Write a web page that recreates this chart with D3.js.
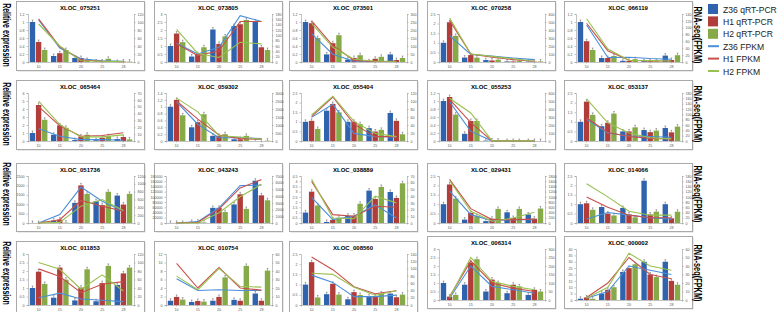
<!DOCTYPE html>
<html>
<head>
<meta charset="utf-8">
<script src="https://cdn.jsdelivr.net/npm/d3@7"></script>
<style>
  body { margin: 0; background: #fff; }
  svg { display: block; font-family: "Liberation Sans", Arial, sans-serif; }
</style>
</head>
<body>
<div id="chart"></div>
<script>
const categories = ["10", "15", "20", "25", "28"];
const seriesNames = ["Z36 qRT-PCR", "H1 qRT-PCR", "H2 qRT-PCR", "Z36 FPKM", "H1 FPKM", "H2 FPKM"];

const titles = [
  "XLOC_075251", "XLOC_073805", "XLOC_073501", "XLOC_070258", "XLOC_066119",
  "XLOC_065464", "XLOC_059302", "XLOC_055404", "XLOC_055253", "XLOC_053137",
  "XLOC_051736", "XLOC_043243", "XLOC_038889", "XLOC_029431", "XLOC_014066",
  "XLOC_011853", "XLOC_010754", "XLOC_008560", "XLOC_006314", "XLOC_000002"
];

// left (qRT-PCR) and right (FPKM) axis ranges
const leftMax   = [1.2, 3, 1.2, 2.5, 1.2,  6, 1.4, 2.5, 1.2, 2.5,  2500, 180000, 4.5, 2.5, 2.5,  3, 12, 2.5, 3, 40];
const leftStep  = [0.2, 0.5, 0.2, 0.5, 0.2,  1, 0.2, 0.5, 0.2, 0.5,  500, 20000, 0.5, 0.5, 0.5,  0.5, 2, 0.5, 0.5, 5];
const rightMax  = [120, 180, 300, 600, 140,  70, 3000, 120, 600, 180,  1200, 7000, 70, 1800, 180,  120, 60, 140, 300, 60];
const rightStep = [20, 20, 50, 100, 20,  10, 500, 20, 100, 20,  200, 1000, 10, 200, 20,  20, 10, 20, 50, 10];

const qpcrZ36 = [
  [1.0, 0.15, 0.1, 0.01, 0.0], [1.0, 0.34, 2.03, 2.25, 2.53], [1.0, 0.19, 0.06, 0.02, 0.19], [1.0, 0.23, 0.1, 0.03, 0.02], [1.0, 0.1, 0.03, 0.02, 0.16],
  [1.0, 0.78, 0.12, 0.1, 0.25], [1.0, 0.4, 0.15, 0.05, 0.0], [1.0, 1.58, 1.0, 0.67, 1.46], [1.0, 0.18, 0.01, 0.0, 0.0], [1.0, 0.77, 0.5, 0.57, 0.68],
  [2, 125, 1070, 1160, 1460], [300, 4000, 58000, 71000, 162000], [1.0, 0.1, 0.7, 3.1, 2.97], [1.0, 0.18, 0.1, 0.57, 0.45], [1.0, 0.85, 0.8, 2.25, 1.0],
  [1.0, 0.43, 0.27, 0.22, 1.18], [1.0, 0.7, 1.0, 1.2, 2.7], [1.0, 0.53, 0.28, 0.44, 0.56], [1.0, 0.9, 0.5, 0.4, 0.3], [1, 5, 22, 30, 30]
];
const qpcrH1 = [
  [0.5, 0.22, 0.1, 0.01, 0.01], [1.78, 0.49, 1.13, 2.36, 0.92], [0.97, 0.47, 0.1, 0.08, 0.05], [2.07, 0.36, 0.08, 0.03, 0.02], [0.52, 0.1, 0.03, 0.02, 0.05],
  [4.5, 1.96, 0.57, 0.4, 0.5], [1.2, 0.55, 0.15, 0.05, 0.0], [1.05, 1.93, 1.0, 0.49, 1.05], [1.1, 0.5, 0.01, 0.0, 0.0], [2.05, 0.95, 0.5, 0.46, 0.45],
  [3, 180, 2000, 950, 980], [400, 5000, 58000, 110000, 106000], [3.0, 0.3, 0.7, 2.3, 2.4], [2.05, 0.54, 0.23, 0.27, 0.23], [1.05, 0.5, 0.45, 0.45, 0.25],
  [1.96, 2.2, 1.02, 1.29, 1.86], [1.9, 0.95, 1.9, 1.0, 1.0], [2.1, 1.04, 0.63, 0.42, 0.38], [0.2, 2.2, 1.2, 0.9, 0.6], [2, 8, 25, 20, 15]
];
const qpcrH2 = [
  [0.3, 0.3, 0.05, 0.08, 0.01], [1.24, 0.92, 1.6, 2.63, 0.75], [0.6, 0.67, 0.17, 0.13, 0.1], [1.36, 0.23, 0.12, 0.05, 0.03], [0.3, 0.15, 0.07, 0.02, 0.17],
  [2.65, 1.65, 0.78, 0.6, 0.2], [0.75, 0.78, 0.2, 0.15, 0.01], [0.63, 1.49, 0.88, 0.58, 0.35], [0.66, 0.5, 0.01, 0.0, 0.0], [1.36, 1.43, 0.71, 0.54, 0.75],
  [1, 20, 1550, 1660, 1550], [200, 2000, 42000, 54000, 87000], [1.68, 0.5, 1.84, 3.45, 3.8], [1.3, 0.36, 0.75, 0.75, 0.77], [0.7, 0.4, 0.3, 0.6, 0.6],
  [1.24, 1.49, 2.1, 2.3, 2.2], [1.27, 0.8, 6.5, 9.2, 8.1], [0.37, 0.51, 0.49, 0.56, 0.51], [0.3, 2.4, 1.0, 0.8, 0.5], [1, 10, 28, 18, 12]
];

const fpkmZ36 = [
  [105, 35, 8, 3, 2], [70, 30, 55, 174, 152], [178, 49, 5, 3, 3], [330, 95, 75, 50, 30], [108, 13, 14, 10, 8],
  [18, 7, 2, 2, 1], [2450, 1050, 200, 200, 150], [59, 92, 19, 11, 11], [490, 120, 2, 2, 2], [81, 30, 19, 17, 14],
  [0, 215, 917, 557, 300], [0, 200, 2260, 5560, 5640], [38, 5, 10, 27, 7.5], [1220, 320, 90, 130, 130], [15, 40, 30, 20, 15],
  [17, 28, 14, 11, 8], [31, 17, 18, 17, 17], [82, 62, 23, 23, 27], [10, 200, 80, 60, 40], [2, 10, 40, 35, 30]
];
const fpkmH1 = [
  [108, 38, 5, 2, 1], [68, 24, 42, 152, 152], [257, 103, 10, 3, 3], [520, 100, 60, 30, 10], [113, 33, 5, 3, 3],
  [50, 22, 7, 8, 12], [2500, 1370, 380, 150, 100], [61, 110, 42, 11, 11], [520, 230, 2, 2, 2], [87, 32, 17, 10, 8],
  [0, 85, 575, 430, 300], [0, 120, 2060, 5230, 6460], [62, 12.5, 10, 25, 23.5], [1670, 550, 130, 130, 150], [100, 60, 30, 20, 20],
  [85, 67, 29, 49, 55], [49, 20, 44, 20, 17.5], [132, 97, 50, 31, 39], [20, 230, 100, 70, 50], [3, 20, 50, 30, 25]
];
const fpkmH2 = [
  [95, 40, 3, 2, 1], [122, 32, 17, 74, 68], [242, 92, 17, 5, 5], [550, 99, 70, 40, 10], [126, 38, 5, 4, 3],
  [58, 24, 6, 6, 9], [2680, 1820, 330, 250, 100], [65, 112, 49, 19, 11], [535, 350, 2, 2, 2], [158, 68, 30, 12, 8],
  [0, 15, 430, 600, 320], [0, 0, 1520, 3900, 5760], [65, 7.5, 6.5, 40, 30], [1630, 450, 65, 190, 410], [150, 100, 45, 30, 30],
  [100, 84, 37, 71, 33], [34, 18, 43, 22, 21], [87, 84, 49, 27, 39], [15, 250, 110, 80, 60], [2, 15, 55, 40, 35]
];

const barColors  = ["#2f63ad", "#b03d3a", "#86aa47"];
const lineColors = ["#4a8fd8", "#c8504c", "#99c050"];

const width = 778, height = 312;
const colX = [16, 154, 289, 427, 564], panelW = 128;
const rowY = [1, 80, 163, 241], rowH = [69, 69, 68, 72];
const panelShift = [0, 0, 0, 0, 0,  0, 0, 0, 0, 0,  0, 0, 0, 0, 0,  0, 0, 0, -5, -5];

const svg = d3.select("#chart")
  .append("svg")
  .attr("width", width)
  .attr("height", height);

titles.forEach((title, i) => {
  const r = Math.floor(i / 5), c = i % 5;
  const x0 = colX[c], y0 = rowY[r] + panelShift[i], h = rowH[r];
  const left = x0 + 12, right = x0 + panelW - 10, top = y0 + 13, bottom = y0 + h - 8;

  const g = svg.append("g");

  g.append("rect")
    .attr("x", x0 + 1.5).attr("y", y0 + 1.5)
    .attr("width", panelW).attr("height", h)
    .attr("fill", "#d6d6d6");
  g.append("rect")
    .attr("x", x0 + 0.5).attr("y", y0 + 0.5)
    .attr("width", panelW).attr("height", h)
    .attr("fill", "#fff")
    .attr("stroke", "#a9a9a9")
    .attr("stroke-width", 1);

  g.append("text")
    .attr("x", x0 + panelW / 2).attr("y", y0 + 9)
    .attr("text-anchor", "middle")
    .attr("font-size", 6).attr("font-weight", "bold")
    .text(title);

  const x = d3.scaleBand().domain(categories).range([left, right]).paddingInner(0.1).paddingOuter(0.05);
  const xs = d3.scaleBand().domain([0, 1, 2]).range([0, x.bandwidth()]).padding(0.12);
  const y = d3.scaleLinear().domain([0, leftMax[i]]).range([bottom, top]);
  const y2 = d3.scaleLinear().domain([0, rightMax[i]]).range([bottom, top]);

  const fmt = v => (Math.abs(v) >= 1000 ? d3.format("d")(v) : d3.format("~g")(v));

  const yAxis = g.append("g")
    .attr("transform", `translate(${left},0)`)
    .call(d3.axisLeft(y).tickValues(d3.range(0, leftMax[i] + leftStep[i] / 2, leftStep[i])).tickSize(1.5).tickPadding(2).tickFormat(fmt));
  const y2Axis = g.append("g")
    .attr("transform", `translate(${right},0)`)
    .call(d3.axisRight(y2).tickValues(d3.range(0, rightMax[i] + rightStep[i] / 2, rightStep[i])).tickSize(1.5).tickPadding(2).tickFormat(fmt));
  const xAxis = g.append("g")
    .attr("transform", `translate(0,${bottom})`)
    .call(d3.axisBottom(x).tickSize(1.5).tickPadding(1.5));

  [yAxis, y2Axis, xAxis].forEach(a => {
    a.selectAll("path, line").attr("stroke", "#9a9a9a").attr("stroke-width", 0.6);
    a.selectAll("text").attr("font-size", 3.6).attr("fill", "#555").attr("font-family", "Liberation Sans, Arial");
  });

  const bars = [qpcrZ36[i], qpcrH1[i], qpcrH2[i]];
  bars.forEach((vals, s) => {
    const bg = g.append("g");
    bg.selectAll("rect")
      .data(vals)
      .enter()
      .append("rect")
      .attr("x", (d, k) => x(categories[k]) + xs(s))
      .attr("y", d => y(d))
      .attr("width", xs.bandwidth())
      .attr("height", d => bottom - y(d))
      .attr("fill", barColors[s]);
    // small error whiskers
    bg.selectAll("path")
      .data(vals)
      .enter()
      .append("path")
      .attr("d", (d, k) => {
        const cx = x(categories[k]) + xs(s) + xs.bandwidth() / 2, ty = y(d);
        return `M${cx},${ty} V${ty - 2} M${cx - 0.8},${ty - 2} H${cx + 0.8}`;
      })
      .attr("stroke", "#333")
      .attr("stroke-width", 0.4)
      .attr("fill", "none");
  });

  const lines = [fpkmZ36[i], fpkmH1[i], fpkmH2[i]];
  const line = d3.line()
    .x((d, k) => x(categories[k]) + x.bandwidth() / 2)
    .y(d => y2(d));
  lines.forEach((vals, s) => {
    g.append("path")
      .datum(vals)
      .attr("d", line)
      .attr("fill", "none")
      .attr("stroke", lineColors[s])
      .attr("stroke-width", 1.1);
  });
});

// row labels: small font stretched sideways so the run stays ~66px long
const labelCenters = [35, 114, 194, 273];
labelCenters.forEach(cy => {
  svg.append("text")
    .attr("transform", `translate(3,${cy}) rotate(90) scale(1,1.45)`)
    .attr("text-anchor", "middle")
    .attr("font-size", 7).attr("font-weight", "bold")
    .text("Relitive expression");
  svg.append("text")
    .attr("transform", `translate(694,${cy}) rotate(90) scale(1,1.45)`)
    .attr("text-anchor", "middle")
    .attr("font-size", 7.4).attr("font-weight", "bold")
    .text("RNA-seq(FPKM)");
});

// legend
const legend = svg.append("g").attr("transform", "translate(708,4)");
seriesNames.forEach((name, k) => {
  const row = legend.append("g").attr("transform", `translate(0,${k * 12.4})`);
  if (k < 3) {
    row.append("rect").attr("x", 0).attr("y", 0).attr("width", 10).attr("height", 10).attr("fill", barColors[k]);
  } else {
    row.append("line").attr("x1", 0).attr("x2", 11).attr("y1", 5).attr("y2", 5)
      .attr("stroke", lineColors[k - 3]).attr("stroke-width", 2);
  }
  row.append("text").attr("x", 15).attr("y", 8.5)
    .attr("font-size", 8.6).attr("fill", "#222")
    .text(name);
});
</script>
</body>
</html>
